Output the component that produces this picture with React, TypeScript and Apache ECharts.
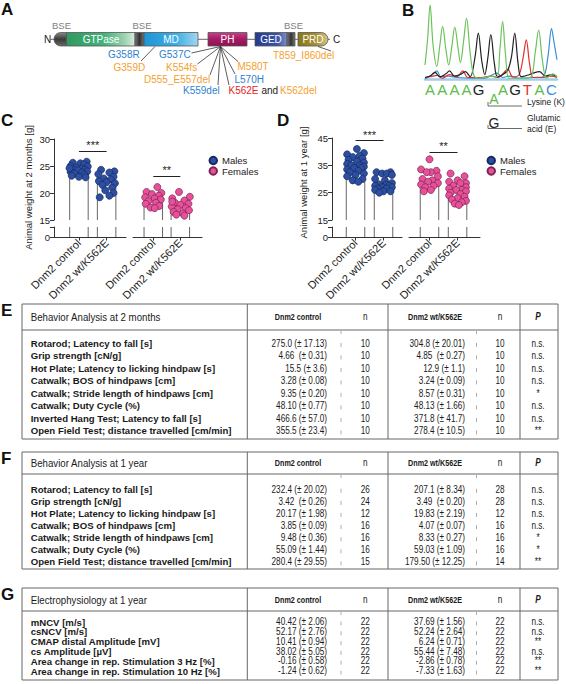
import React, { useEffect, useRef } from "react";
import * as echarts from "echarts";

const FONT = "'Liberation Sans', Arial, Helvetica, sans-serif";

// ---------- Panel A: DNM2 domains and mutations ----------
const domainNames = ["GTPase", "MD", "PH", "GED", "PRD"];
const bseLabel = "BSE";
const mutationLabels = ["G358R", "G359D", "G537C", "K554fs", "D555_E557del", "K559del", "K562E", "and", "K562del", "L570H", "M580T", "T859_I860del"];

// ---------- Panel B: Sanger trace ----------
const sequence = ["A", "A", "A", "A", "G", "", "A", "G", "T", "A", "C"];
const traceGreen = [[-0.42, 19], [-0.2, 55], [0, 100], [0.25, 45], [0.55, 17], [0.8, 45], [1.03, 71], [1.3, 40], [1.53, 19], [1.8, 45], [2.03, 70], [2.3, 42], [2.5, 22], [2.75, 50], [3.0, 82], [3.3, 35], [3.6, 5], [4.0, 1], [4.5, 2], [5.0, 4], [5.5, 3], [5.75, 40], [5.97, 78], [6.2, 35], [6.5, 1], [7.0, 1], [7.6, 1], [8.3, 3], [8.65, 35], [8.94, 66], [9.25, 25], [9.6, 1], [10.1, 7], [10.45, 3]];
const traceBlack = [[-0.42, 2], [0, 4], [0.4, 9], [0.8, 3], [1.3, 7], [1.6, 11], [2.0, 4], [2.5, 6], [2.9, 10], [3.3, 3], [3.7, 30], [3.97, 62], [4.25, 25], [4.5, 6], [4.75, 28], [5.0, 60], [5.3, 20], [5.55, 3], [6.0, 6], [6.4, 12], [6.7, 30], [6.97, 62], [7.25, 20], [7.5, 3], [8.0, 5], [8.5, 8], [9.0, 10], [9.5, 4], [10.0, 6], [10.45, 3]];
const traceRed = [[-0.42, 2], [0.0, 3], [0.6, 5], [1.0, 1], [1.6, 6], [2.2, 3], [2.7, 11], [3.1, 2], [4.2, 2], [5.0, 4], [5.6, 2], [6.4, 13], [6.8, 3], [7.3, 5], [7.65, 28], [7.92, 53], [8.2, 20], [8.5, 2], [9.3, 2], [10.0, 4], [10.45, 2]];
const traceBlue = [[-0.42, 0], [0.2, 6], [0.55, 11], [0.9, 3], [1.5, 4], [2.3, 2], [3.5, 1], [4.5, 1], [5.5, 8], [6.0, 2], [6.5, 4], [7.3, 1], [8.5, 2], [9.3, 3], [9.7, 30], [10.0, 68], [10.2, 50], [10.45, 26]];

// ---------- Panels C / D: body weight ----------
const groupNames = ["Dnm2 control", "Dnm2 wt/K562E"];
const barsMales2m = [24.0, 22.0];
const barsFemales2m = [19.0, 17.6];
const malesCtrl2m = [25.8, 25.6, 25.5, 25.3, 25.0, 24.9, 24.7, 24.5, 24.4, 24.3, 24.2, 24.0, 23.9, 23.8, 23.6, 23.4, 23.2, 23.0, 22.9, 24.6];
const malesCtrl2mX = [0.28, -0.22, 0.05, 0.18, -0.3, 0.32, -0.1, 0.1, -0.24, 0.22, -0.04, 0.3, -0.3, 0.12, -0.16, 0.2, -0.26, 0.0, 0.24, -0.34];
const malesMut2m = [24.3, 24.0, 23.8, 23.5, 23.0, 22.7, 22.5, 22.2, 22.0, 21.8, 21.5, 21.0, 20.5, 20.0, 19.5, 19.2];
const malesMut2mX = [-0.2, 0.28, 0.1, -0.3, 0.25, -0.1, 0.15, -0.28, 0.0, 0.3, -0.15, 0.2, -0.05, 0.25, 0.1, -0.25];
const femalesCtrl2m = [21.1, 20.2, 20.0, 19.8, 19.5, 19.2, 19.0, 18.8, 18.5, 18.2, 18.0, 17.6, 17.3, 17.2];
const femalesCtrl2mX = [0.15, -0.25, 0.3, -0.05, 0.2, -0.3, 0.05, 0.28, -0.18, 0.1, -0.28, 0.22, -0.1, 0.05];
const femalesMut2m = [20.2, 19.3, 19.0, 18.6, 18.2, 18.0, 17.8, 17.5, 17.2, 17.0, 16.8, 16.5, 16.2, 16.0, 15.8, 18.4];
const femalesMut2mX = [-0.05, 0.35, -0.3, 0.15, -0.2, 0.3, 0.0, -0.32, 0.2, -0.1, 0.32, -0.25, 0.1, -0.15, 0.15, -0.3];
const sig2m = [27.8, 23.15];

const barsMales1y = [35.0, 28.8];
const barsFemales1y = [29.4, 25.1];
const malesCtrl1y = [41, 39.5, 39, 38.5, 38, 37.5, 37, 36.5, 36, 35.5, 35, 35, 34.5, 34, 34, 33.5, 33, 32.5, 32, 31.5, 31, 30, 29.5, 29];
const malesCtrl1yX = [0.05, 0.3, -0.3, 0.15, -0.1, 0.25, -0.25, 0.05, 0.3, -0.3, 0.15, -0.15, 0.3, -0.05, 0.2, -0.3, 0.1, -0.2, 0.3, 0.0, -0.3, 0.25, -0.1, 0.1];
const malesMut1y = [32.5, 32.5, 32, 32, 31.5, 30, 29.5, 28.5, 28, 28, 27.5, 27.5, 27, 27, 26.5, 26.5, 26, 25.5, 25.5, 25];
const malesMut1yX = [-0.25, 0.25, -0.05, 0.12, 0.3, -0.3, 0.05, 0.3, -0.15, 0.1, -0.3, 0.2, -0.05, 0.3, -0.2, 0.1, -0.3, 0.0, 0.25, -0.15];
const femalesCtrl1y = [37.2, 33.5, 33, 32.5, 32.5, 31, 30, 29.5, 29, 28.5, 28, 27.5, 27, 26, 25.5];
const femalesCtrl1yX = [0.0, -0.3, 0.25, 0.05, -0.1, 0.3, -0.25, 0.1, -0.05, 0.3, -0.3, 0.15, -0.15, 0.05, -0.2];
const femalesMut1y = [32, 31, 29.5, 29, 28.5, 28.5, 27.5, 27, 26.5, 26, 26, 25.5, 25, 24.5, 24, 23.5, 23, 22.5, 22, 21.5, 21, 20.5];
const femalesMut1yX = [-0.25, 0.25, 0.0, -0.3, 0.3, 0.1, -0.15, 0.3, -0.3, 0.15, -0.05, 0.3, -0.25, 0.1, -0.3, 0.25, 0.0, -0.2, 0.3, 0.15, -0.1, 0.05];
const sig1y = [44.0, 39.9];

// ---------- Tables E / F / G ----------
const colHeaders = ["Dnm2 control", "n", "Dnm2 wt/K562E", "n", "P"];

const titleE = "Behavior Analysis at 2 months";
const labelsE = ["Rotarod; Latency to fall [s]", "Grip strength [cN/g]", "Hot Plate; Latency to licking hindpaw [s]", "Catwalk; BOS of hindpaws [cm]", "Catwalk; Stride length of hindpaws [cm]", "Catwalk; Duty Cycle (%)", "Inverted Hang Test; Latency to fall [s]", "Open Field Test; distance travelled [cm/min]"];
const ctrlE = ["275.0 (± 17.13)", "4.66  (± 0.31)", "15.5 (± 3.6)", "3.28 (± 0.08)", "9.35 (± 0.20)", "48.10 (± 0.77)", "466.6 (± 57.0)", "355.5 (± 23.4)"];
const nCtrlE = ["10", "10", "10", "10", "10", "10", "10", "10"];
const mutE = ["304.8 (± 20.01)", "4.85  (± 0.27)", "12.9 (± 1.1)", "3.24 (± 0.09)", "8.57 (± 0.31)", "48.13 (± 1.66)", "371.8 (± 41.7)", "278.4 (± 10.5)"];
const nMutE = ["10", "10", "10", "10", "10", "10", "10", "10"];
const pE = ["n.s.", "n.s.", "n.s.", "n.s.", "*", "n.s.", "n.s.", "**"];

const titleF = "Behavior Analysis at 1 year";
const labelsF = ["Rotarod; Latency to fall [s]", "Grip strength [cN/g]", "Hot Plate; Latency to licking hindpaw [s]", "Catwalk; BOS of hindpaws [cm]", "Catwalk; Stride length of hindpaws [cm]", "Catwalk; Duty Cycle (%)", "Open Field Test; distance travelled [cm/min]"];
const ctrlF = ["232.4 (± 20.02)", "3.42  (± 0.26)", "20.17 (± 1.98)", "3.85 (± 0.09)", "9.48 (± 0.36)", "55.09 (± 1.44)", "280.4 (± 29.55)"];
const nCtrlF = ["26", "24", "12", "16", "16", "16", "15"];
const mutF = ["207.1 (± 8.34)", "3.49  (± 0.20)", "19.83 (± 2.19)", "4.07 (± 0.07)", "8.33 (± 0.27)", "59.03 (± 1.09)", "179.50 (± 12.25)"];
const nMutF = ["28", "28", "12", "16", "16", "16", "14"];
const pF = ["n.s.", "n.s.", "n.s.", "n.s.", "*", "*", "**"];

const titleG = "Electrophysiology at 1 year";
const labelsG = ["mNCV [m/s]", "csNCV [m/s]", "CMAP distal Amplitude [mV]", "cs Amplitude [µV]", "Area change in rep. Stimulation 3 Hz [%]", "Area change in rep. Stimulation 10 Hz [%]"];
const ctrlG = ["40.42 (± 2.06)", "52.17 (± 2.76)", "10.41 (± 0.94)", "38.02 (± 5.05)", "-0.16 (± 0.58)", "-1.24 (± 0.62)"];
const nCtrlG = ["22", "22", "22", "22", "22", "22"];
const mutG = ["37.69 (± 1.56)", "52.24 (± 2.64)", "6.24 (± 0.71)", "55.44 (± 7.48)", "-2.86 (± 0.78)", "-7.33 (± 1.63)"];
const nMutG = ["22", "22", "22", "22", "22", "22"];
const pG = ["n.s.", "n.s.", "**", "n.s.", "**", "**"];

const MALE = { fill: "#2d4fa2", stroke: "#17295e" };
const FEMALE = { fill: "#e8509a", stroke: "#7a2450" };
const BLUE_T = "#2f7fd0";
const ORANGE_T = "#f5a02e";
const RED_T = "#e8231f";

function buildOption() {
  const g: any[] = [];
  const txt = (x: number, y: number, t: string, o: any = {}) =>
    g.push({
      type: "text", x, y, rotation: o.rot || 0, scaleX: o.sx || 1, silent: true, z: 10,
      style: {
        text: t, fill: o.fill || "#1a1a1a", fontSize: o.size || 10, fontFamily: o.family || FONT,
        fontWeight: o.weight || "normal", fontStyle: o.italic ? "italic" : "normal",
        align: o.align || "left", verticalAlign: o.valign || "middle",
      },
    });
  const ln = (x1: number, y1: number, x2: number, y2: number, stroke = "#555", w = 1) =>
    g.push({ type: "line", silent: true, z: 9, shape: { x1, y1, x2, y2 }, style: { stroke, lineWidth: w } });
  const grad = (horizontal: boolean, stops: [number, string][]) =>
    new echarts.graphic.LinearGradient(0, 0, horizontal ? 1 : 0, horizontal ? 0 : 1, stops.map(([offset, color]) => ({ offset, color })));
  const box = (x: number, w: number, fill: any, r: any = 0) =>
    g.push({ type: "rect", silent: true, z: 9, shape: { x, y: 32.5, width: w, height: 13.5, r }, style: { fill, stroke: "#555", lineWidth: 0.8 } });

  // ----- Panel letters -----
  const L = (x: number, y: number, t: string) => txt(x, y, t, { size: 17, weight: "bold", fill: "#111" });
  L(1, 9.5, "A");
  L(402, 10, "B");
  L(1, 120.5, "C");
  L(277, 120.5, "D");

  // ----- Panel A -----
  ln(50.5, 39.3, 330, 39.3, "#666", 1);
  txt(47.5, 39.3, "N", { size: 10, align: "center" });
  txt(336.5, 39.3, "C", { size: 10, align: "center" });
  const greyBlock = grad(true, [[0, "#777"], [0.5, "#333"], [1, "#777"]]);
  box(54, 12.5, grad(false, [[0, "#8a8a8a"], [0.5, "#3a3a3a"], [1, "#6a6a6a"]]), [7, 0, 0, 7]);
  box(66.5, 68.5, grad(true, [[0, "#2f9a60"], [0.55, "#44b27a"], [0.85, "#9ed2b2"], [1, "#dcecdf"]]));
  box(135, 9, greyBlock);
  box(144, 54, grad(true, [[0, "#1f95d6"], [0.6, "#3daee5"], [1, "#a2d6ef"]]));
  box(208, 39, grad(false, [[0, "#c4438a"], [0.5, "#a51b63"], [1, "#8b1452"]]));
  box(255, 32, grad(true, [[0, "#253a8a"], [0.7, "#3a55a7"], [1, "#7d90c6"]]));
  box(287, 8, greyBlock);
  box(298, 30, grad(true, [[0, "#8a7616"], [0.6, "#a68f33"], [1, "#d6c687"]]), [0, 7, 7, 0]);
  const domX = [101, 171, 227.5, 271, 313];
  domainNames.forEach((d, i) => txt(domX[i], 39.5, d, { size: 10, fill: "#fff", align: "center" }));
  [61.5, 142, 293.5].forEach((x) => txt(x, 25, bseLabel, { size: 9.5, fill: "#808080", align: "center" }));

  const mutPos: [number, number, string][] = [
    [108, 54, BLUE_T], [113.5, 67.5, ORANGE_T], [159, 54, BLUE_T], [166, 67.5, ORANGE_T],
    [144, 79, ORANGE_T], [183, 90, BLUE_T], [228.5, 90, RED_T], [261.5, 90, "#222"],
    [280, 90, ORANGE_T], [234.5, 79, BLUE_T], [237.5, 66, ORANGE_T], [273, 55, ORANGE_T],
  ];
  mutationLabels.forEach((m, i) => txt(mutPos[i][0], mutPos[i][1], m, { size: 10, fill: mutPos[i][2] }));
  ln(155, 46.5, 141, 61, "#333", 0.8);
  const ph: [number, number] = [220.5, 46.5];
  [[191.5, 53], [197.5, 64], [210, 75], [218, 85], [229, 85], [235, 74], [238, 61.5]].forEach(([x, y]) => ln(ph[0], ph[1], x, y, "#333", 0.8));
  ln(318, 46.5, 331, 51, "#333", 0.8);

  // ----- Panel B annotations -----
  txt(494, 98.5, "A", { size: 14, fill: "#5dbb4c", align: "center" });
  g.push({ type: "polyline", silent: true, shape: { points: [[488, 102], [488, 106], [522, 106]] }, style: { stroke: "#444", lineWidth: 0.8, fill: null } });
  txt(527, 102, "Lysine (K)", { size: 8.5 });
  txt(494, 122.5, "G", { size: 14, fill: "#222", align: "center" });
  g.push({ type: "polyline", silent: true, shape: { points: [[488, 125], [488, 128.5], [522, 128.5]] }, style: { stroke: "#444", lineWidth: 0.8, fill: null } });
  txt(527, 118, "Glutamic", { size: 8.5 });
  txt(527, 129, "acid (E)", { size: 8.5 });

  // ----- C / D axis titles -----
  txt(28, 187.5, "Animal weight at 2 months [g]", { size: 9.5, rot: Math.PI / 2, align: "center" });
  txt(303, 182.5, "Animal weight at 1 year [g]", { size: 9.5, rot: Math.PI / 2, align: "center" });

  // ----- Tables -----
  const ts = { title: 11, titleSx: 0.88, head: 9, headSx: 0.8, label: 9.6, value: 10, valueSx: 0.82 };
  const X0 = 22, X1 = 558, D1 = 247.3, D2 = 388, D3 = 520;
  const table = (cfg: any) => {
    const { letter, top, header, sep, rowStart, step, bottom, title, labels, ctrl, nCtrl, mut, nMut, p } = cfg;
    L(1, top + 6.5, letter);
    g.push({ type: "rect", silent: true, shape: { x: X0, y: top, width: X1 - X0, height: bottom - top }, style: { fill: null, stroke: "#666", lineWidth: 1 } });
    ln(X0, sep, X1, sep, "#666", 1);
    [D1, D2, D3].forEach((x) => ln(x, top, x, bottom, "#666", 1));
    txt(30.7, header, title, { size: ts.title, sx: ts.titleSx });
    txt(298, header, colHeaders[0], { size: ts.head, sx: ts.headSx, weight: "bold", align: "center" });
    txt(365.3, header, colHeaders[1], { size: ts.value, sx: ts.valueSx, align: "center" });
    txt(435, header, colHeaders[2], { size: ts.head, sx: ts.headSx, weight: "bold", align: "center" });
    txt(500, header, colHeaders[3], { size: ts.value, sx: ts.valueSx, align: "center" });
    txt(538, header, colHeaders[4], { size: ts.value, sx: ts.valueSx, weight: "bold", italic: true, align: "center" });
    ln(341, sep + 1, 341, sep + 4, "#999", 0.8);
    ln(476.5, sep + 1, 476.5, sep + 4, "#999", 0.8);
    labels.forEach((lab: string, i: number) => {
      const y = rowStart + i * step;
      txt(30.7, y, lab, { size: ts.label, weight: "bold" });
      txt(327, y, ctrl[i], { size: ts.value, sx: ts.valueSx, align: "right" });
      txt(365.3, y, nCtrl[i], { size: ts.value, sx: ts.valueSx, align: "center" });
      txt(465, y, mut[i], { size: ts.value, sx: ts.valueSx, align: "right" });
      txt(500, y, nMut[i], { size: ts.value, sx: ts.valueSx, align: "center" });
      txt(538, y, p[i], { size: ts.value, sx: ts.valueSx, align: "center" });
      ln(341, y - 0.5, 341, y + 3.5, "#999", 0.8);
      ln(476.5, y - 0.5, 476.5, y + 3.5, "#999", 0.8);
    });
  };
  table({ letter: "E", top: 304, header: 317, sep: 330, rowStart: 343.4, step: 12.5, bottom: 439, title: titleE, labels: labelsE, ctrl: ctrlE, nCtrl: nCtrlE, mut: mutE, nMut: nMutE, p: pE });
  table({ letter: "F", top: 452, header: 463, sep: 474, rowStart: 489.3, step: 12.1, bottom: 569, title: titleF, labels: labelsF, ctrl: ctrlF, nCtrl: nCtrlF, mut: mutF, nMut: nMutF, p: pF });
  table({ letter: "G", top: 588, header: 600, sep: 611, rowStart: 622, step: 9.8, bottom: 680, title: titleG, labels: labelsG, ctrl: ctrlG, nCtrl: nCtrlG, mut: mutG, nMut: nMutG, p: pG });

  // ----- Chart components -----
  const grids: any[] = [];
  const xAxes: any[] = [];
  const yAxes: any[] = [];
  const series: any[] = [];

  // Panel B chromatogram grid
  grids.push({ left: 425, top: 5, width: 132, height: 74, outerBoundsMode: "none" });
  xAxes.push({
    type: "value", gridIndex: 0, min: -0.42, max: 10.45,
    axisLine: { show: true, onZero: false, lineStyle: { color: "#a3cde8", width: 2.5 } },
    axisTick: { show: false }, splitLine: { show: false },
    axisLabel: {
      show: true, margin: 3, customValues: sequence.map((s, i) => (s ? i : -1)).filter((i) => i >= 0),
      formatter: (v: number) => { const b = sequence[Math.round(v)]; return b ? `{${b}|${b}}` : ""; },
      rich: {
        A: { color: "#5dbb4c", fontSize: 15, fontFamily: FONT },
        G: { color: "#222", fontSize: 15, fontFamily: FONT },
        T: { color: "#e0322e", fontSize: 15, fontFamily: FONT },
        C: { color: "#3a8ed6", fontSize: 15, fontFamily: FONT },
      },
    },
  });
  yAxes.push({ type: "value", gridIndex: 0, min: 0, max: 100, show: false });
  const trace = (data: number[][], color: string) =>
    series.push({ type: "line", xAxisIndex: 0, yAxisIndex: 0, data, smooth: 0.35, showSymbol: false, silent: true, lineStyle: { color, width: 1.2 }, z: 3 });
  trace(traceBlue, "#3a8ed6");
  trace(traceRed, "#e0322e");
  trace(traceBlack, "#222");
  trace(traceGreen, "#6cc35a");

  const BAR_HALF = 9.25;
  const axisCol = "#333";
  const panel = (cfg: any) => {
    cfg.groups.forEach((grp: any, gi: number) => {
      const uIdx = grids.length;
      grids.push({ left: grp.left, top: cfg.upperTop, width: grp.width, height: cfg.upperBottom - cfg.upperTop, outerBoundsMode: "none" });
      const lIdx = grids.length;
      grids.push({ left: grp.left, top: cfg.lowerTop, width: grp.width, height: cfg.lowerBottom - cfg.lowerTop, outerBoundsMode: "none" });
      const xu = xAxes.length;
      xAxes.push({ type: "value", gridIndex: uIdx, min: grp.min, max: grp.max, show: false });
      const xl = xAxes.length;
      xAxes.push({
        type: "value", gridIndex: lIdx, min: grp.min, max: grp.max,
        axisLine: { show: true, onZero: false, lineStyle: { color: axisCol, width: 1 } },
        axisTick: { show: true, customValues: [0, 1], length: 3.5, lineStyle: { color: axisCol } },
        axisLabel: { show: true, customValues: [0, 1], rotate: 45, margin: 4, fontSize: 11, color: "#222", fontFamily: FONT, formatter: (v: number) => groupNames[Math.round(v)] || "" },
        splitLine: { show: false },
      });
      const showY = gi === 0;
      const yu = yAxes.length;
      yAxes.push({
        type: "value", gridIndex: uIdx, min: cfg.yMin, max: cfg.yMax, interval: cfg.interval, show: showY,
        axisLine: { show: true, onZero: false, lineStyle: { color: axisCol } },
        axisTick: { show: true, length: 4, lineStyle: { color: axisCol } },
        axisLabel: { fontSize: 9.5, color: "#222", margin: 4, fontFamily: FONT },
        splitLine: { show: false },
      });
      const yl = yAxes.length;
      yAxes.push({
        type: "value", gridIndex: lIdx, min: 0, max: 1, interval: 1, show: showY,
        axisLine: { show: true, onZero: false, lineStyle: { color: axisCol } },
        axisTick: { show: true, length: 4, lineStyle: { color: axisCol } },
        axisLabel: { fontSize: 9.5, color: "#222", margin: 4, fontFamily: FONT, formatter: (v: number) => (v === 0 ? "0" : "") },
        splitLine: { show: false },
      });
      const barData = grp.bars.map((v: number, i: number) => [i, v]);
      series.push({
        type: "custom", xAxisIndex: xu, yAxisIndex: yu, data: barData, silent: true, encode: { x: 0, y: 1 }, z: 2,
        renderItem: (_p: any, api: any) => {
          const x = api.value(0), v = api.value(1);
          const pb = api.coord([x, cfg.yMin]);
          const pt = api.coord([x, v]);
          return {
            type: "polyline",
            shape: { points: [[pb[0] - BAR_HALF, pb[1]], [pt[0] - BAR_HALF, pt[1]], [pt[0] + BAR_HALF, pt[1]], [pb[0] + BAR_HALF, pb[1]]] },
            style: { stroke: "#666", lineWidth: 1, fill: "none" },
          };
        },
      });
      series.push({
        type: "custom", xAxisIndex: xl, yAxisIndex: yl, data: barData, silent: true, encode: { x: 0, y: 1 }, z: 2,
        renderItem: (_p: any, api: any) => {
          const x = api.value(0), v = api.value(1);
          const pb = api.coord([x, 0]);
          const pt = api.coord([x, Math.min(v, 1)]);
          return {
            type: "group",
            children: [
              { type: "line", shape: { x1: pb[0] - BAR_HALF, y1: pb[1], x2: pt[0] - BAR_HALF, y2: pt[1] }, style: { stroke: "#666", lineWidth: 1 } },
              { type: "line", shape: { x1: pb[0] + BAR_HALF, y1: pb[1], x2: pt[0] + BAR_HALF, y2: pt[1] }, style: { stroke: "#666", lineWidth: 1 } },
            ],
          };
        },
      });
      const dots = [
        ...grp.ctrl.map((v: number, i: number) => [grp.ctrlX[i], v]),
        ...grp.mut.map((v: number, i: number) => [1 + grp.mutX[i], v]),
      ];
      series.push({
        type: "scatter", name: grp.name, xAxisIndex: xu, yAxisIndex: yu, data: dots, symbol: "circle", symbolSize: 7, silent: true, z: 4,
        itemStyle: { color: grp.color.fill, borderColor: grp.color.stroke, borderWidth: 0.7, opacity: 1 },
        markLine: {
          silent: true, symbol: ["none", "none"], animation: false,
          lineStyle: { color: "#222", width: 1, type: "solid" },
          label: { show: true, position: "insideMiddleTop", formatter: grp.stars, fontSize: 11, color: "#222", distance: 0, fontFamily: FONT },
          emphasis: { disabled: true },
          data: [[{ coord: [0, grp.sig] }, { coord: [1, grp.sig] }]],
        },
      });
    });
  };

  panel({
    upperTop: 139, upperBottom: 220, lowerTop: 227, lowerBottom: 237, yMin: 15, yMax: 30, interval: 5,
    groups: [
      { left: 54, width: 72, min: -0.9, max: 1.7, name: "Males", color: MALE, bars: barsMales2m, ctrl: malesCtrl2m, ctrlX: malesCtrl2mX, mut: malesMut2m, mutX: malesMut2mX, sig: sig2m[0], stars: "***" },
      { left: 133, width: 69, min: -0.75, max: 1.8, name: "Females", color: FEMALE, bars: barsFemales2m, ctrl: femalesCtrl2m, ctrlX: femalesCtrl2mX, mut: femalesMut2m, mutX: femalesMut2mX, sig: sig2m[1], stars: "**" },
    ],
  });
  panel({
    upperTop: 138, upperBottom: 220, lowerTop: 227, lowerBottom: 237, yMin: 15, yMax: 45, interval: 10,
    groups: [
      { left: 332, width: 70, min: -0.84, max: 1.66, name: "Males", color: MALE, bars: barsMales1y, ctrl: malesCtrl1y, ctrlX: malesCtrl1yX, mut: malesMut1y, mutX: malesMut1yX, sig: sig1y[0], stars: "***" },
      { left: 409, width: 71, min: -0.73, max: 1.8, name: "Females", color: FEMALE, bars: barsFemales1y, ctrl: femalesCtrl1y, ctrlX: femalesCtrl1yX, mut: femalesMut1y, mutX: femalesMut1yX, sig: sig1y[1], stars: "**" },
    ],
  });

  const legendBase = {
    data: ["Males", "Females"], orient: "vertical", icon: "circle", itemWidth: 7.5, itemHeight: 7.5, itemGap: 0.5,
    padding: 0, selectedMode: false, textStyle: { fontSize: 9.5, color: "#222", fontFamily: FONT },
  };

  return {
    animation: false,
    textStyle: { fontFamily: FONT },
    grid: grids,
    xAxis: xAxes,
    yAxis: yAxes,
    series,
    legend: [
      { ...legendBase, left: 208.5, top: 155.5 },
      { ...legendBase, left: 486.5, top: 155.5 },
    ],
    graphic: g,
  };
}

export default function App() {
  const ref = useRef<HTMLDivElement>(null);
  useEffect(() => {
    if (!ref.current) return;
    const chart = echarts.init(ref.current, null, { renderer: "svg", width: 566, height: 684 });
    chart.setOption(buildOption() as any);
    return () => chart.dispose();
  }, []);
  return <div ref={ref} style={{ position: "absolute", left: 0, top: 0, width: 566, height: 684, background: "#fff" }} />;
}
